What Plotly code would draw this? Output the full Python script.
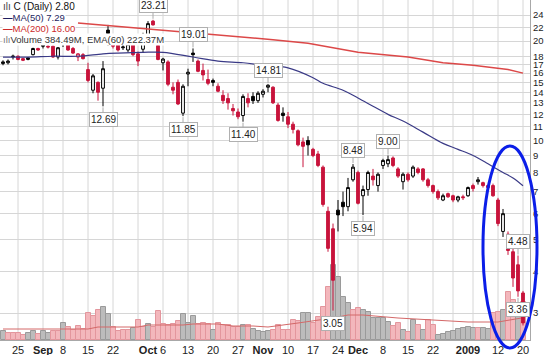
import numpy as np
import pandas as pd
import plotly.graph_objects as go

# ---------------- data ----------------
holidays = ["2008-09-01", "2008-11-27", "2008-12-25", "2009-01-01", "2009-01-19"]
dates = [d for d in pd.bdate_range("2008-08-20", "2009-01-20")
         if d.strftime("%Y-%m-%d") not in holidays]
date_str = [d.strftime("%Y-%m-%d") for d in dates]
pos = {s: i for i, s in enumerate(date_str)}
idx = list(range(len(dates)))

opens = [17.1, 17.2, 17.9, 18.0, 17.7, 17.6, 18.2, 19.0, 19.6, 19.3,
         19.3, 17.9, 20.0, 19.5, 19.0, 17.9, 18.2, 16.4, 14.2, 15.0,
         14.4, 21.6, 20.4, 19.5, 19.1, 18.8, 19.6, 18.3, 18.9, 20.8,
         23.0, 19.4, 17.2, 17.3, 14.5, 15.0, 12.1, 15.9, 18.4, 17.4,
         16.3, 15.3, 15.2, 14.6, 13.7, 13.4, 12.5, 12.2, 11.9, 13.4,
         13.6, 13.2, 13.8, 14.5, 14.5, 12.8, 12.1, 11.8, 11.2, 10.7,
         9.9, 10.0, 9.4, 9.1, 8.3, 6.1, 5.4, 6.15, 6.5, 6.3,
         7.6, 8.0, 6.8, 7.1, 7.8, 7.3, 8.4, 8.5, 8.85, 8.2,
         7.5, 7.9, 7.8, 8.2, 8.2, 7.6, 7.3, 7.0, 6.6, 6.9,
         6.8, 6.6, 6.75, 6.8, 7.3, 7.5, 7.45, 7.3, 7.3, 6.6,
         5.3, 5.2, 4.6, 4.2, 3.45]
highs = [17.5, 17.6, 18.2, 18.1, 17.8, 17.9, 19.1, 19.1, 19.9, 19.5,
         19.4, 19.2, 20.4, 19.7, 19.2, 18.4, 18.4, 17.2, 15.9, 15.1,
         17.4, 22.4, 20.6, 19.8, 19.5, 19.9, 19.7, 18.6, 21.2, 23.0,
         23.21, 19.8, 17.8, 17.5, 15.0, 15.3, 14.8, 16.5, 19.01, 17.6,
         17.1, 16.4, 15.4, 14.9, 14.2, 13.9, 12.9, 12.5, 13.8, 13.9,
         14.0, 14.1, 14.3, 14.81, 14.6, 13.0, 12.6, 12.2, 11.4, 10.8,
         10.2, 10.3, 9.5, 9.3, 8.4, 6.3, 5.6, 6.6, 7.0, 7.7,
         8.48, 8.1, 7.3, 8.1, 8.2, 8.0, 8.8, 9.00, 8.95, 8.3,
         8.0, 8.0, 8.4, 8.3, 8.25, 7.7, 7.35, 7.1, 6.9, 6.95,
         6.85, 6.8, 6.85, 7.25, 7.4, 7.75, 7.5, 7.35, 7.4, 6.7,
         6.2, 5.3, 4.7, 4.48, 3.5]
lows = [16.9, 17.0, 17.6, 17.5, 17.4, 17.5, 18.1, 18.7, 19.0, 19.0,
        17.8, 17.6, 19.2, 18.7, 18.3, 17.4, 17.6, 15.0, 13.9, 13.2,
        12.69, 19.4, 19.0, 18.6, 18.8, 18.5, 18.0, 16.8, 18.5, 20.5,
        22.3, 17.5, 16.3, 14.6, 13.8, 12.8, 11.85, 14.6, 17.3, 16.1,
        15.2, 14.7, 14.6, 14.0, 12.9, 12.4, 11.9, 11.6, 11.40, 12.6,
        12.9, 13.0, 13.5, 14.0, 12.9, 11.4, 11.4, 10.9, 10.5, 9.6,
        8.3, 9.0, 8.9, 8.3, 6.3, 4.6, 3.05, 5.3, 5.9, 6.1,
        7.5, 6.4, 5.94, 6.8, 7.3, 7.0, 8.2, 8.3, 8.3, 7.7,
        7.1, 7.5, 7.7, 7.9, 7.5, 7.2, 6.9, 6.6, 6.55, 6.7,
        6.5, 6.5, 6.6, 6.75, 7.0, 7.35, 7.2, 7.1, 6.75, 5.5,
        5.1, 4.5, 3.6, 3.36, 2.75]
closes = [17.3, 17.4, 18.0, 17.6, 17.5, 17.8, 19.0, 18.8, 19.3, 19.2,
          17.9, 19.1, 19.6, 18.8, 18.4, 18.3, 17.7, 15.2, 15.7, 14.0,
          16.5, 21.1, 19.3, 18.8, 19.2, 19.6, 18.2, 17.4, 19.7, 22.6,
          22.4, 17.6, 17.65, 14.8, 14.2, 12.9, 14.6, 16.1, 18.2, 16.2,
          15.8, 14.9, 15.0, 14.1, 13.2, 13.0, 12.3, 11.8, 13.6, 13.0,
          13.2, 13.9, 14.1, 14.7, 13.0, 11.5, 11.9, 11.2, 10.8, 9.7,
          9.6, 9.7, 9.0, 8.4, 6.4, 4.71, 3.77, 5.95, 6.3, 7.2,
          8.3, 6.45, 7.1, 8.0, 7.6, 7.9, 8.7, 8.75, 8.4, 7.8,
          7.9, 7.6, 8.3, 8.0, 7.6, 7.3, 7.0, 6.7, 6.8, 6.75,
          6.6, 6.75, 6.71, 7.2, 7.15, 7.6, 7.3, 7.2, 6.8, 5.6,
          6.0, 4.64, 3.83, 3.50, 2.80]
volumes = [90, 70, 70, 70, 50, 70, 90, 60, 90, 70,
           90, 90, 170, 130, 100, 140, 110, 270, 240, 300,
           330, 260, 130, 90, 100, 100, 120, 200, 130, 160,
           130, 290, 160, 150, 160, 190, 260, 170, 240, 160,
           170, 160, 100, 170, 150, 150, 130, 130, 150, 150,
           110, 90, 80, 90, 100, 150, 100, 100, 200, 190,
           270, 270, 170, 230, 330, 530, 750, 630, 430, 370,
           300, 320, 300, 280, 220, 220, 220, 180, 140, 170,
           100, 80, 200, 150, 100, 200, 150, 50, 60, 80,
           90, 110, 120, 130, 120, 120, 120, 110, 270, 280,
           300, 480, 400, 350, 384.49]
# volume bar direction as seen in the chart: g = up (grey), p = down (pink)
vol_dir = ("gppppggpgg" "ppgppppppp" "ggppppgppg" "ppppppgggp" "ppgpppppgp"
           "ggggpppppp" "ggppppgggg" "ppggggggpp" "gpgpgppggg" "gggggpggpp" "gppgp")

ma50_dates = ["2008-08-20", "2008-08-27", "2008-09-04", "2008-09-11", "2008-09-18",
              "2008-09-23", "2008-09-30", "2008-10-06", "2008-10-14", "2008-10-21",
              "2008-10-28", "2008-11-03", "2008-11-10", "2008-11-17", "2008-11-19",
              "2008-11-25", "2008-12-01", "2008-12-04", "2008-12-09", "2008-12-12",
              "2008-12-18", "2008-12-24", "2008-12-30", "2009-01-05", "2009-01-08",
              "2009-01-13", "2009-01-15", "2009-01-20"]
ma50_vals = [17.9, 17.9, 18.0, 18.0, 18.3, 18.4, 18.5, 18.5, 17.9, 17.4,
             17.2, 16.9, 16.6, 15.5, 14.9, 14.2, 13.45, 12.7, 12.0, 11.45,
             10.6, 9.8, 9.4, 9.0, 8.5, 8.0, 7.7, 7.29]

ma200_dates = ["2008-09-11", "2008-10-13", "2008-11-05", "2008-11-14", "2008-12-01",
               "2008-12-15", "2008-12-24", "2009-01-05", "2009-01-14", "2009-01-20"]
ma200_vals = [22.7, 21.3, 20.2, 19.7, 18.5, 17.9, 17.2, 16.9, 16.4, 16.00]

ema_dates = ["2008-08-20", "2008-09-02", "2008-09-08", "2008-09-15", "2008-09-17",
             "2008-09-29", "2008-10-01", "2008-10-10", "2008-10-14", "2008-10-21",
             "2008-10-24", "2008-10-30", "2008-11-04", "2008-11-12", "2008-11-21",
             "2008-11-26", "2008-12-02", "2008-12-11", "2008-12-22", "2009-01-02",
             "2009-01-12", "2009-01-15", "2009-01-20"]
ema_vals = [110, 105, 110, 110, 130, 130, 150, 150, 160, 160,
            140, 140, 130, 170, 220, 250, 250, 220, 200, 180,
            180, 210, 222.37]

marked_highs = ["2008-10-02", "2008-10-14", "2008-11-04", "2008-11-28", "2008-12-09", "2009-01-16"]
marked_lows = ["2008-09-18", "2008-10-10", "2008-10-28", "2008-11-21", "2008-12-02", "2009-01-16"]

price_ticks = [3, 4, 5, 6, 7, 8, 9, 10, 11, 12, 13, 14, 15, 16, 17, 18, 20, 22, 24]

# ---------------- styling ----------------
RED = "#c8143c"
PINK, PINK_LINE = "#f3b7bc", "#e3969d"
GREY, GREY_LINE = "#bcbcbc", "#9a9a9a"
GRID = "#d6d6d6"
FONT = "Liberation Sans, Arial, sans-serif"

fig = go.Figure()

# volume (main y axis, drawn underneath)
fig.add_trace(go.Bar(
    x=idx, y=volumes, xaxis="x", yaxis="y",
    marker=dict(color=[PINK if d == "p" else GREY for d in vol_dir],
                line=dict(color=[PINK_LINE if d == "p" else GREY_LINE for d in vol_dir], width=1)),
    hoverinfo="skip"))
fig.add_trace(go.Scatter(
    x=[pos[d] for d in ema_dates], y=ema_vals, xaxis="x", yaxis="y", mode="lines",
    line=dict(color="#d46868", width=1), hoverinfo="skip"))

# moving averages (price axis)
fig.add_trace(go.Scatter(
    x=[pos[d] for d in ma200_dates], y=ma200_vals, xaxis="x", yaxis="y2", mode="lines",
    line=dict(color="#dc4848", width=1.5), hoverinfo="skip"))
fig.add_trace(go.Scatter(
    x=[pos[d] for d in ma50_dates], y=ma50_vals, xaxis="x", yaxis="y2", mode="lines",
    line=dict(color="#3a3a86", width=1.2, shape="spline"), hoverinfo="skip"))

# candles: black when close >= previous close, red otherwise;
# hollow when close > open, filled otherwise
prev_close = [opens[0]] + closes[:-1]
up_day = [c >= p for c, p in zip(closes, prev_close)]
for want, col in ((True, "black"), (False, RED)):
    ii = [i for i in idx if up_day[i] == want]
    fig.add_trace(go.Candlestick(
        x=ii, open=[opens[i] for i in ii], high=[highs[i] for i in ii],
        low=[lows[i] for i in ii], close=[closes[i] for i in ii],
        xaxis="x", yaxis="y2", whiskerwidth=0,
        increasing=dict(line=dict(color=col, width=1), fillcolor="white"),
        decreasing=dict(line=dict(color=col, width=1), fillcolor=col),
        hoverinfo="skip"))

# ---------------- x axis labels / weekly grid ----------------
month_starts = [i for i in idx[1:] if dates[i].month != dates[i - 1].month]
week_starts = [i for i in idx[1:] if dates[i].isocalendar()[1] != dates[i - 1].isocalendar()[1]]


def month_text(i):
    d = dates[i]
    return d.strftime("%Y") if d.month == 1 else d.strftime("%b")


labels = {}
for m in month_starts:
    labels[m] = "<b>%s</b>" % month_text(m)
for w in week_starts:
    if w in labels:
        continue
    txt = str(dates[w].day)
    clash = any(5 * abs(w - m) < (6.5 * len(month_text(m)) + 6 * len(txt)) / 2 + 2
                for m in month_starts)
    if not clash:
        labels[w] = txt
tick_pos = sorted(labels)

shapes = [dict(type="line", xref="x", yref="paper", x0=w, x1=w, y0=0, y1=1,
               line=dict(color=GRID, width=1), layer="below") for w in week_starts]
# hand-drawn highlight ellipse around the final sessions
shapes.append(dict(type="circle", xref="paper", yref="paper",
                   x0=0.9113, x1=1.0132, y0=-0.0235, y1=0.5706,
                   line=dict(color="#0b1ee8", width=3), layer="above"))

annotations = []
for d in marked_highs:
    i = pos[d]
    annotations.append(dict(x=i, y=np.log10(highs[i]), xref="x", yref="y2",
                            text="%.2f" % highs[i], showarrow=True, arrowhead=0,
                            arrowwidth=1, arrowcolor="#aaaaaa", ax=0, ay=-14, standoff=1,
                            font=dict(size=10, color="#222222", family=FONT),
                            bgcolor="white", bordercolor="#b0b0b0", borderwidth=1, borderpad=1))
for d in marked_lows:
    i = pos[d]
    annotations.append(dict(x=i, y=np.log10(lows[i]), xref="x", yref="y2",
                            text="%.2f" % lows[i], showarrow=True, arrowhead=0,
                            arrowwidth=1, arrowcolor="#aaaaaa", ax=0, ay=13, standoff=1,
                            font=dict(size=10, color="#222222", family=FONT),
                            bgcolor="white", bordercolor="#b0b0b0", borderwidth=1, borderpad=1))

# legend block (top-left), one line every 11 px
legend_lines = [
    ("<span style='color:#444'>ılı</span> C (Daily) %.2f" % closes[-1], 10, "#111111", 0.004, 1 - 6.5 / 340),
    ("<b>—</b>MA(50) %.2f" % ma50_vals[-1], 9.5, "#1e1e60", 0.004, 1 - 17.5 / 340),
    ("<b>—</b>MA(200) %.2f" % ma200_vals[-1], 9.5, "#cc2a2a", 0.004, 1 - 28.5 / 340),
    ("<span style='color:#777'>ılı</span>Volume %.2fM, EMA(60) %.2fM" % (volumes[-1], ema_vals[-1]),
     9.5, "#333333", 0.004, 1 - 39.5 / 340),
]
for txt, sz, col, lx, ly in legend_lines:
    annotations.append(dict(x=lx, y=ly, xref="paper", yref="paper", text=txt, showarrow=False,
                            xanchor="left", yanchor="middle", align="left",
                            font=dict(size=sz, color=col, family=FONT),
                            bgcolor="white", borderpad=0))

fig.update_layout(
    width=550, height=355,
    margin=dict(l=0, r=20, t=0, b=15),
    paper_bgcolor="white", plot_bgcolor="white",
    showlegend=False, hovermode=False, dragmode=False,
    bargap=0, boxgap=0.2,
    font=dict(family=FONT, size=11, color="#222222"),
    xaxis=dict(range=[-0.6, len(idx) + 0.4], tickmode="array", tickvals=tick_pos,
               ticktext=[labels[i] for i in tick_pos], showgrid=False, zeroline=False,
               showline=True, linecolor="#a8a8a8", ticks="", rangeslider=dict(visible=False),
               tickfont=dict(size=11, color="#222222")),
    yaxis=dict(range=[0, 3400], visible=False, showgrid=False, zeroline=False),
    yaxis2=dict(type="log", overlaying="y", side="right",
                range=[np.log10(2.485), np.log10(26.65)],
                tickmode="array", tickvals=price_ticks, ticktext=[str(t) for t in price_ticks],
                showgrid=True, gridcolor=GRID, gridwidth=1, zeroline=False,
                showline=True, linecolor="#a8a8a8", mirror=True, ticks="",
                tickfont=dict(size=9.5, color="#222222")),
    shapes=shapes, annotations=annotations,
)

fig.write_html("out.html")
